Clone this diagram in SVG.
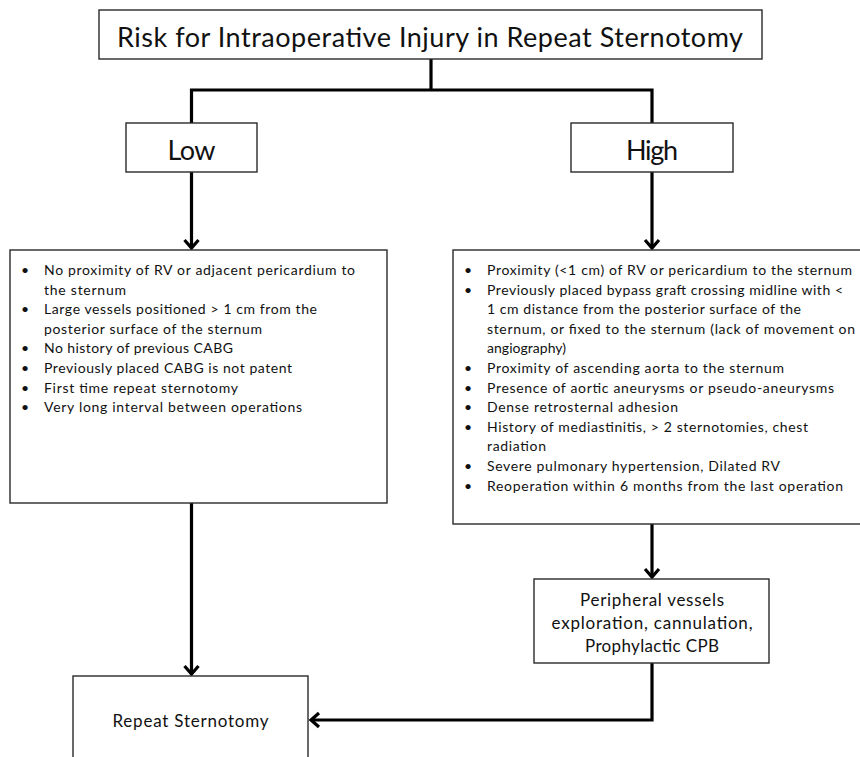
<svg xmlns="http://www.w3.org/2000/svg" width="860" height="757" viewBox="0 0 860 757">
<style>
  .box { fill: #ffffff; stroke: #2a2a2a; stroke-width: 1.4; }
  .conn { fill: none; stroke: #000000; stroke-width: 3.2; stroke-linejoin: miter; }
  text { font-family: Lato, "Open Sans", "Liberation Sans", sans-serif; fill: #111111; }
  .title { font-size: 27px; text-anchor: middle; }
  .big { font-size: 27px; text-anchor: middle; }
  .body { font-size: 14px; }
  .mid { font-size: 17px; text-anchor: middle; }
</style>
<defs>
  <marker id="arrow" viewBox="-2 -2 15 18" markerWidth="15" markerHeight="18" refX="9" refY="7" orient="auto" markerUnits="userSpaceOnUse">
    <path d="M1,0 L9,7 L1,14" fill="none" stroke="#000000" stroke-width="3.2" stroke-linejoin="miter"/>
  </marker>
</defs>
<rect width="860" height="757" fill="#ffffff"/>

<g id="connectors">
  <path class="conn" d="M431,59 V90"/>
  <path class="conn" d="M191.5,123 V90 H652 V123"/>
  <path class="conn" d="M191.5,172 V248" marker-end="url(#arrow)"/>
  <path class="conn" d="M652,172 V248" marker-end="url(#arrow)"/>
  <path class="conn" d="M191.5,503 V674" marker-end="url(#arrow)"/>
  <path class="conn" d="M652,524 V577" marker-end="url(#arrow)"/>
  <path class="conn" d="M652,663 V720 H311" marker-end="url(#arrow)"/>
</g>

<g id="title">
  <rect class="box" x="99" y="10" width="663" height="49"/>
  <text class="title" x="430" y="47" textLength="626">Risk for Intraoperative Injury in Repeat Sternotomy</text>
</g>

<g id="low">
  <rect class="box" x="126" y="123" width="131" height="49"/>
  <text class="big" x="191.5" y="160" textLength="48">Low</text>
</g>

<g id="high">
  <rect class="box" x="571" y="123" width="162" height="49"/>
  <text class="big" x="652" y="160" textLength="52">High</text>
</g>

<g id="low-criteria">
  <rect class="box" x="10" y="250" width="377" height="253"/>
  <g class="body">
    <text x="21" y="275">•</text>
    <text x="44" y="275" textLength="311">No proximity of RV or adjacent pericardium to</text>
    <text x="44" y="294.6" textLength="82">the sternum</text>
    <text x="21" y="314.2">•</text>
    <text x="44" y="314.2" textLength="273">Large vessels positioned &gt; 1 cm from the</text>
    <text x="44" y="333.8" textLength="218">posterior surface of the sternum</text>
    <text x="21" y="353.4">•</text>
    <text x="44" y="353.4" textLength="189">No history of previous CABG</text>
    <text x="21" y="373">•</text>
    <text x="44" y="373" textLength="248">Previously placed CABG is not patent</text>
    <text x="21" y="392.6">•</text>
    <text x="44" y="392.6" textLength="194">First time repeat sternotomy</text>
    <text x="21" y="412.2">•</text>
    <text x="44" y="412.2" textLength="258">Very long interval between operations</text>
  </g>
</g>

<g id="high-criteria">
  <rect class="box" x="453" y="250" width="420" height="274"/>
  <g class="body">
    <text x="464" y="275">•</text>
    <text x="487" y="275" textLength="365">Proximity (&lt;1 cm) of RV or pericardium to the sternum</text>
    <text x="464" y="294.6">•</text>
    <text x="487" y="294.6" textLength="356">Previously placed bypass graft crossing midline with &lt;</text>
    <text x="487" y="314.2" textLength="314">1 cm distance from the posterior surface of the</text>
    <text x="487" y="333.8" textLength="368">sternum, or fixed to the sternum (lack of movement on</text>
    <text x="487" y="353.4" textLength="79">angiography)</text>
    <text x="464" y="373">•</text>
    <text x="487" y="373" textLength="297">Proximity of ascending aorta to the sternum</text>
    <text x="464" y="392.6">•</text>
    <text x="487" y="392.6" textLength="347">Presence of aortic aneurysms or pseudo-aneurysms</text>
    <text x="464" y="412.2">•</text>
    <text x="487" y="412.2" textLength="191">Dense retrosternal adhesion</text>
    <text x="464" y="431.8">•</text>
    <text x="487" y="431.8" textLength="321">History of mediastinitis, &gt; 2 sternotomies, chest</text>
    <text x="487" y="451.4" textLength="59">radiation</text>
    <text x="464" y="471">•</text>
    <text x="487" y="471" textLength="293">Severe pulmonary hypertension, Dilated RV</text>
    <text x="464" y="490.6">•</text>
    <text x="487" y="490.6" textLength="356">Reoperation within 6 months from the last operation</text>
  </g>
</g>

<g id="peripheral">
  <rect class="box" x="534" y="579" width="235" height="84"/>
  <text class="mid" x="652" y="606" textLength="144">Peripheral vessels</text>
  <text class="mid" x="652" y="629" textLength="201">exploration, cannulation,</text>
  <text class="mid" x="652" y="652" textLength="134">Prophylactic CPB</text>
</g>

<g id="repeat-sternotomy">
  <rect class="box" x="73" y="676" width="235" height="100"/>
  <text class="mid" x="190.5" y="727" textLength="156">Repeat Sternotomy</text>
</g>
</svg>
